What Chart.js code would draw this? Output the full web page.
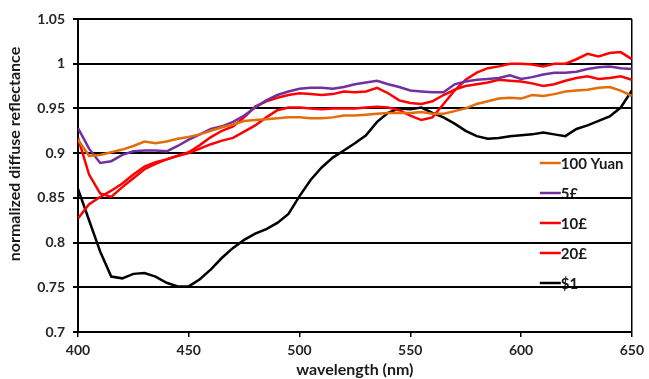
<!DOCTYPE html>
<html>
<head>
<meta charset="utf-8">
<script src="https://cdn.jsdelivr.net/npm/chart.js@4"></script>
<style>
	body { margin:0; background:#fff; }
	#wrap { position:relative; width:649px; height:379px; }
</style>
</head>
<body>
<div id="wrap"><canvas id="c"></canvas></div>
<script>
const wavelength = [400,405,410,415,420,425,430,435,440,445,450,455,460,465,470,475,480,485,490,495,500,505,510,515,520,525,530,535,540,545,550,555,560,565,570,575,580,585,590,595,600,605,610,615,620,625,630,635,640,645,650]

const yuan100 = [0.915,0.897,0.898,0.901,0.904,0.908,0.913,0.911,0.913,0.916,0.918,0.921,0.925,0.929,0.932,0.936,0.937,0.938,0.939,0.94,0.94,0.939,0.939,0.94,0.942,0.942,0.943,0.944,0.945,0.945,0.945,0.946,0.944,0.944,0.947,0.95,0.955,0.958,0.961,0.962,0.961,0.965,0.964,0.966,0.969,0.97,0.971,0.973,0.974,0.97,0.964]

const pound5 = [0.928,0.905,0.889,0.891,0.898,0.902,0.903,0.903,0.902,0.908,0.915,0.921,0.927,0.93,0.935,0.942,0.951,0.959,0.965,0.969,0.972,0.973,0.973,0.972,0.974,0.977,0.979,0.981,0.977,0.974,0.97,0.969,0.968,0.968,0.977,0.98,0.982,0.983,0.984,0.987,0.983,0.985,0.988,0.99,0.99,0.991,0.994,0.996,0.997,0.995,0.994]

const pound10 = [0.917,0.876,0.855,0.851,0.862,0.872,0.882,0.888,0.893,0.897,0.901,0.909,0.918,0.925,0.93,0.94,0.952,0.958,0.962,0.965,0.967,0.966,0.965,0.966,0.969,0.968,0.969,0.973,0.967,0.959,0.956,0.955,0.958,0.965,0.971,0.975,0.977,0.979,0.982,0.981,0.98,0.978,0.975,0.977,0.981,0.984,0.986,0.983,0.984,0.986,0.982]

const pound20 = [0.827,0.843,0.851,0.858,0.866,0.876,0.885,0.89,0.893,0.897,0.9,0.905,0.91,0.914,0.917,0.924,0.931,0.94,0.948,0.951,0.951,0.95,0.949,0.95,0.95,0.95,0.951,0.952,0.951,0.948,0.942,0.937,0.94,0.955,0.97,0.982,0.99,0.995,0.997,1.0,1.0,0.999,0.997,1.0,1.0,1.005,1.011,1.008,1.012,1.013,1.005]

const dollar1 = [0.86,0.825,0.79,0.762,0.76,0.765,0.766,0.762,0.755,0.751,0.751,0.759,0.77,0.783,0.794,0.803,0.81,0.815,0.822,0.832,0.852,0.87,0.884,0.895,0.903,0.911,0.92,0.935,0.945,0.95,0.949,0.951,0.945,0.94,0.933,0.925,0.919,0.916,0.917,0.919,0.92,0.921,0.923,0.921,0.919,0.927,0.931,0.936,0.941,0.951,0.97]

const seriesNames = ['100 Yuan', '5£', '10£', '20£', '$1']
const seriesColors = ['#e46c0a', '#7030a0', '#ff0000', '#ff0000', '#000000']
const seriesData = [yuan100, pound5, pound10, pound20, dollar1]

const yTitle = 'normalized diffuse reflectance'

const font = 'Lato, "Liberation Sans", sans-serif'

// legend sits inside the plot, drawn before the grid so the lines cross it
// y title drawn by hand, it is not centred on the axis in the original
const extras = {
	id: 'extras',
	beforeDraw(chart) {
		const g = chart.ctx
		const a = chart.chartArea
		g.save()
		g.font = 'bold 15px ' + font
		g.textBaseline = 'middle'
		chart.data.datasets.forEach((d, i) => {
			const y = a.top + 144 + i * 30
			const x = a.right - 92
			g.strokeStyle = d.borderColor
			g.lineWidth = 2.5
			g.beginPath()
			g.moveTo(x, y)
			g.lineTo(x + 21, y)
			g.stroke()
			g.fillStyle = '#1a1a1a'
			g.fillText(d.label, x + 21, y + 1)
		})
		g.restore()
	},
	afterDraw(chart) {
		const g = chart.ctx
		g.save()
		g.translate(15, 154)
		g.rotate(-Math.PI / 2)
		g.font = 'bold 16px ' + font
		g.textAlign = 'center'
		g.textBaseline = 'middle'
		g.fillStyle = '#1a1a1a'
		g.fillText(yTitle, 0, 0)
		g.restore()
	}
}

addEventListener('load', () => {
	new Chart(document.getElementById('c'), {
		type: 'line',
		data: {
			datasets: seriesNames.map((n, i) => ({
				label: n,
				data: wavelength.map((w, j) => ({x: w, y: seriesData[i][j]})),
				borderColor: seriesColors[i],
				backgroundColor: seriesColors[i],
				borderWidth: 2.5,
				pointRadius: 0,
				tension: 0,
				fill: false,
			}))
		},
		options: {
			responsive: true,
			maintainAspectRatio: false,
			animation: false,
			layout: { padding: { top: 19, right: 15, left: 0, bottom: 0 } },
			plugins: {
				legend: { display: false },
				tooltip: { enabled: false },
			},
			scales: {
				x: {
					type: 'linear',
					min: 400,
					max: 650,
					afterFit: s => { s.height = 47 },
					ticks: {
						stepSize: 50,
						color: '#262626',
						padding: 5,
						font: { family: font, size: 14, weight: 'bold' },
					},
					grid: {
						color: c => c.tick && c.tick.value === 650 ? '#000' : 'rgba(0,0,0,0)',
						lineWidth: 1.5,
						tickColor: '#000',
						tickLength: 5,
					},
					border: { display: true, color: '#000', width: 2 },
					title: {
						display: true,
						text: 'wavelength (nm)',
						color: '#1a1a1a',
						padding: 0,
						font: { family: font, size: 16, weight: 'bold' },
					},
				},
				y: {
					min: 0.7,
					max: 1.05,
					afterFit: s => { s.width = 78 },
					ticks: {
						stepSize: 0.05,
						color: '#262626',
						padding: 8,
						font: { family: font, size: 14, weight: 'bold' },
						callback: v => String(+v.toFixed(2)),
					},
					grid: { color: '#000', lineWidth: 2, tickLength: 5 },
					border: { display: true, color: '#000', width: 2 },
				},
			},
		},
		plugins: [extras],
	})
})
</script>
</body>
</html>
